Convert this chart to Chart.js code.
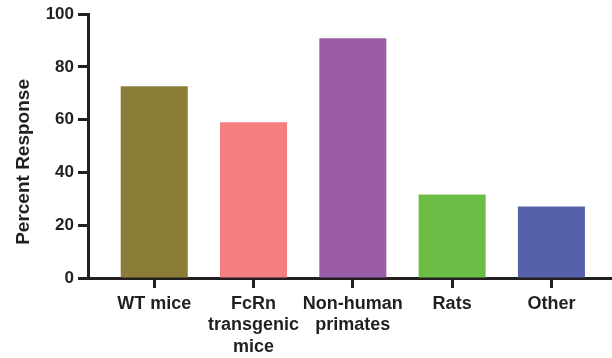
<!DOCTYPE html>
<html>
<head>
<meta charset="utf-8">
<script src="https://cdn.jsdelivr.net/npm/chart.js@4.4.1/dist/chart.umd.min.js"></script>
<style>
    body { margin: 0; background: #fff; }
</style>
</head>
<body>
<canvas id="chart" width="612" height="358"></canvas>
<script>
// categories and values
const categories = ['WT mice', ['FcRn', 'transgenic', 'mice'], ['Non-human', 'primates'], 'Rats', 'Other'];
const percentResponse = [72.7, 59.0, 90.9, 31.7, 27.1];
const barColors = ['#8b7d37', '#f47e80', '#9b5ea6', '#6bbd45', '#5561aa'];
const yTicks = [0, 20, 40, 60, 80, 100];

const ink = '#231f20';
const font = 'Arial, "Liberation Sans", Helvetica, sans-serif';

let points = [];
for (let i = 0; i < percentResponse.length; i++) {
    points.push({ x: i, y: percentResponse[i] });
}

new Chart(document.getElementById('chart'), {
    type: 'bar',
    data: {
        datasets: [{
            data: points,
            backgroundColor: barColors,
            barPercentage: 0.675,
            categoryPercentage: 1
        }]
    },
    options: {
        responsive: false,
        animation: false,
        layout: { padding: { top: 6, right: 0, left: 0, bottom: 0 } },
        plugins: { legend: { display: false }, tooltip: { enabled: false } },
        scales: {
            x: {
                type: 'linear',
                offset: false,
                min: -0.667,
                max: 4.61,
                afterFit: function(scale) { scale.height = 80; },
                border: { display: true, color: ink, width: 3 },
                grid: { offset: false, drawOnChartArea: false, drawTicks: true, tickLength: 10, tickWidth: 3, color: ink },
                ticks: {
                    stepSize: 1,
                    includeBounds: false,
                    autoSkip: false,
                    maxRotation: 0,
                    padding: 5,
                    color: ink,
                    font: { family: font, size: 18, weight: 'bold', lineHeight: 1.2 },
                    callback: function(value) {
                        return Number.isInteger(value) && categories[value] !== undefined ? categories[value] : '';
                    }
                }
            },
            y: {
                min: 0,
                max: 100,
                afterFit: function(scale) { scale.width = 88; },
                afterBuildTicks: function(scale) { scale.ticks = yTicks.map(v => ({ value: v })); },
                border: { display: true, color: ink, width: 3 },
                grid: { drawOnChartArea: false, drawTicks: true, tickLength: 10, tickWidth: 3, color: ink },
                ticks: {
                    padding: 4,
                    color: ink,
                    font: { family: font, size: 17, weight: 'bold' }
                },
                title: {
                    display: true,
                    text: 'Percent Response      ',
                    color: ink,
                    padding: { top: 12, bottom: 0 },
                    font: { family: font, size: 19, weight: 'bold' }
                }
            }
        }
    }
});
</script>
</body>
</html>
